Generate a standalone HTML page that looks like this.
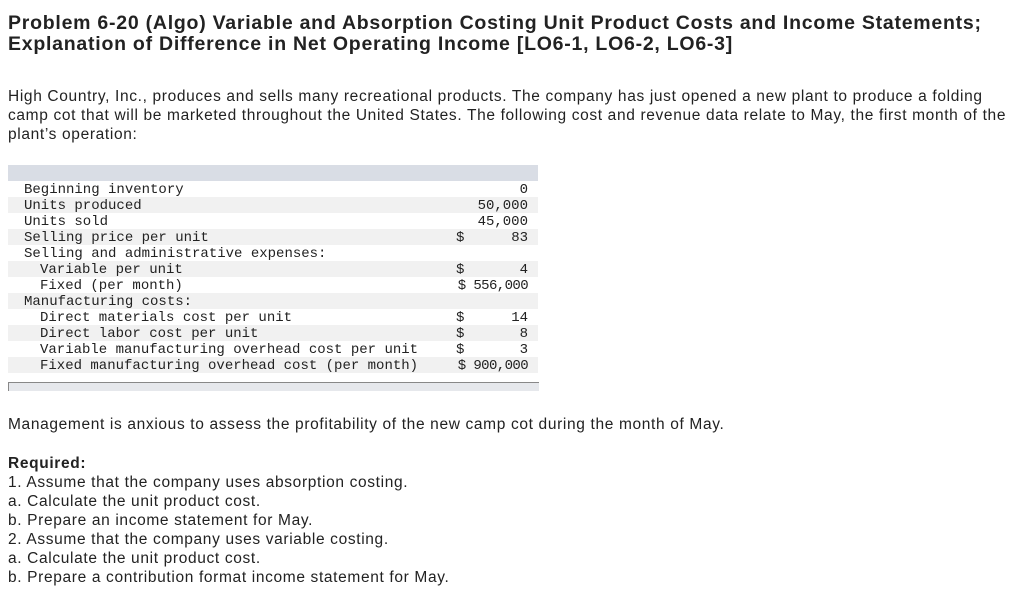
<!DOCTYPE html>
<html><head><meta charset="utf-8"><style>
body{margin:0;width:1024px;height:593px;background:#fff;font-family:"Liberation Sans",sans-serif;color:#222;position:relative;overflow:hidden}
.abs{position:absolute;white-space:nowrap}
h1{position:absolute;left:8px;top:13px;margin:0;font-size:19.5px;line-height:21px;font-weight:bold;color:#222;letter-spacing:0.75px;white-space:nowrap}
.p{position:absolute;left:8px;font-size:15.5px;line-height:19px;letter-spacing:0.65px;white-space:nowrap}
table{position:absolute;left:8px;top:165px;width:530px;border-collapse:collapse;font-family:"Liberation Mono",monospace;font-size:14px;table-layout:fixed}
td{height:13px;padding:3px 0 0 0;line-height:13px;color:#222;white-space:nowrap;overflow:visible}
tr.g td{background:#f1f1f1}
.hd{background:#d9dde5;height:16px;padding:0}
.r{text-align:right;padding-right:10px}
.t{letter-spacing:-0.6px}
</style></head><body>
<h1>Problem 6-20 (Algo) Variable and Absorption Costing Unit Product Costs and Income Statements;<br>Explanation of Difference in Net Operating Income [LO6-1, LO6-2, LO6-3]</h1>
<div class="p" style="top:87px">High Country, Inc., produces and sells many recreational products. The company has just opened a new plant to produce a folding<br>camp cot that will be marketed throughout the United States. The following cost and revenue data relate to May, the first month of the<br>plant’s operation:</div>
<table>
<colgroup><col style="width:448px"><col style="width:20px"><col></colgroup>
<tr><td colspan="3" class="hd"></td></tr>
<tr><td style="padding-left:16px">Beginning inventory</td><td></td><td class="r">0</td></tr>
<tr class="g"><td style="padding-left:16px">Units produced</td><td></td><td class="r">50,000</td></tr>
<tr><td style="padding-left:16px">Units sold</td><td></td><td class="r">45,000</td></tr>
<tr class="g"><td style="padding-left:16px">Selling price per unit</td><td>$</td><td class="r">83</td></tr>
<tr><td style="padding-left:16px">Selling and administrative expenses:</td><td></td><td></td></tr>
<tr class="g"><td style="padding-left:32px">Variable per unit</td><td>$</td><td class="r">4</td></tr>
<tr><td style="padding-left:32px">Fixed (per month)</td><td colspan="2" class="r t">$ 556,000</td></tr>
<tr class="g"><td style="padding-left:16px">Manufacturing costs:</td><td></td><td></td></tr>
<tr><td style="padding-left:32px">Direct materials cost per unit</td><td>$</td><td class="r">14</td></tr>
<tr class="g"><td style="padding-left:32px">Direct labor cost per unit</td><td>$</td><td class="r">8</td></tr>
<tr><td style="padding-left:32px">Variable manufacturing overhead cost per unit</td><td>$</td><td class="r">3</td></tr>
<tr class="g"><td style="padding-left:32px">Fixed manufacturing overhead cost (per month)</td><td colspan="2" class="r t">$ 900,000</td></tr>
</table>
<div class="abs" style="left:8px;top:382px;width:530px;height:8px;background:#e6e8ec;border-top:1px solid #888;border-left:1px solid #888"></div>
<div class="p" style="top:415px">Management is anxious to assess the profitability of the new camp cot during the month of May.</div>
<div class="p" style="top:454px"><b>Required:</b><br>1. Assume that the company uses absorption costing.<br>a. Calculate the unit product cost.<br>b. Prepare an income statement for May.<br>2. Assume that the company uses variable costing.<br>a. Calculate the unit product cost.<br>b. Prepare a contribution format income statement for May.</div>
</body></html>
